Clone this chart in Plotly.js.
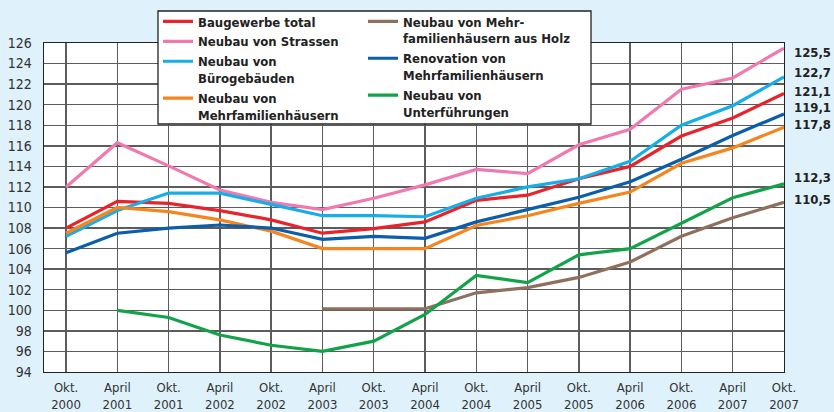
<!DOCTYPE html>
<html>
<head>
<meta charset="utf-8">
<script src="https://cdn.plot.ly/plotly-3.0.1.min.js"></script>
<style>
html,body{margin:0;padding:0;background:#dff1fa;}
#chart{width:834px;height:412px;}
</style>
</head>
<body>
<div id="chart"></div>
<script>
// ---- data ----
const periods = ['Okt.<br>2000','April<br>2001','Okt.<br>2001','April<br>2002','Okt.<br>2002','April<br>2003','Okt.<br>2003','April<br>2004','Okt.<br>2004','April<br>2005','Okt.<br>2005','April<br>2006','Okt.<br>2006','April<br>2007','Okt.<br>2007'];
const baugewerbeTotal = [108.0, 110.6, 110.4, 109.7, 108.8, 107.5, 107.95, 108.6, 110.7, 111.2, 112.8, 114.0, 116.95, 118.7, 121.1];
const neubauStrassen = [112.0, 116.3, 114.05, 111.7, 110.5, 109.8, 110.9, 112.2, 113.7, 113.3, 116.1, 117.6, 121.5, 122.6, 125.5];
const neubauBuero = [107.2, 109.7, 111.4, 111.4, 110.3, 109.2, 109.2, 109.1, 110.9, 112.0, 112.8, 114.5, 118.0, 119.9, 122.7];
const neubauMfh = [107.5, 110.0, 109.6, 108.8, 107.7, 106.0, 106.0, 106.0, 108.25, 109.2, 110.4, 111.5, 114.3, 115.8, 117.8];
const neubauMfhHolz = [null, null, null, null, null, 100.15, 100.15, 100.15, 101.7, 102.2, 103.2, 104.7, 107.2, 109.0, 110.5];
const renovationMfh = [105.6, 107.5, 108.0, 108.3, 108.0, 106.9, 107.2, 107.0, 108.6, 109.8, 111.0, 112.5, 114.7, 117.0, 119.1];
const neubauUnterf = [null, 100.0, 99.3, 97.6, 96.6, 96.0, 97.0, 99.6, 103.4, 102.7, 105.4, 106.0, 108.5, 110.95, 112.3];
const endLabels = ['125,5','122,7','121,1','119,1','117,8','112,3','110,5'];
const yTicks = [94,96,98,100,102,104,106,108,110,112,114,116,118,120,122,124,126];

// ---- styling ----
const FONT = '"DejaVu Sans Condensed", "Liberation Sans", sans-serif';
const xIdx = periods.map((_, i) => i);

const series = [
  {name:'Baugewerbe total', y: baugewerbeTotal, color:'#e8232a', legend:'legend'},
  {name:'Neubau von Strassen', y: neubauStrassen, color:'#f07aaf', legend:'legend'},
  {name:'Neubau von<br>Bürogebäuden', y: neubauBuero, color:'#16aee8', legend:'legend'},
  {name:'Neubau von<br>Mehrfamilienhäusern', y: neubauMfh, color:'#f5861f', legend:'legend'},
  {name:'Neubau von Mehr-<br>familienhäusern aus Holz', y: neubauMfhHolz, color:'#8f705e', legend:'legend2'},
  {name:'Renovation von<br>Mehrfamilienhäusern', y: renovationMfh, color:'#0b5ea9', legend:'legend2'},
  {name:'Neubau von<br>Unterführungen', y: neubauUnterf, color:'#12a34a', legend:'legend2'}
];

const traces = series.map(s => ({
  type:'scatter', mode:'lines', x:xIdx, y:s.y, name:s.name, legend:s.legend,
  line:{color:s.color, width:3.2}, connectgaps:false, hoverinfo:'skip'
}));

// end-value labels (order: strassen, buero, total, renovation, mfh, unterf, holz)
const endSeries = [neubauStrassen, neubauBuero, baugewerbeTotal, renovationMfh, neubauMfh, neubauUnterf, neubauMfhHolz];
const endShift = [-4, 4, 2, 6, 3, 6, 3];
const annotations = endSeries.map((arr, k) => ({
  x: xIdx[xIdx.length-1], y: arr[arr.length-1], xref:'x', yref:'y',
  text:'<b>'+endLabels[k]+'</b>', showarrow:false, xanchor:'left', yanchor:'middle',
  xshift:8, yshift:endShift[k], font:{family:FONT, size:13, color:'#222'}
}));

const L = 44, R = 784, T = 43, B = 372;
const px = v => (v - L) / (R - L);
const py = v => (B - v) / (B - T);

const layout = {
  width:834, height:412,
  margin:{l:L, r:834-R, t:T, b:412-B, pad:0, autoexpand:false},
  paper_bgcolor:'#dff1fa', plot_bgcolor:'#ffffff',
  font:{family:FONT, color:'#333'},
  showlegend:true,
  xaxis:{
    range:[-0.43, periods.length-1], tickvals:xIdx, ticktext:periods,
    showgrid:true, gridcolor:'#5c5c5c', gridwidth:1.4,
    showline:true, linecolor:'#222', linewidth:1.4, mirror:true,
    zeroline:false, ticks:'', ticklabelstandoff:3, automargin:false,
    tickfont:{family:FONT, size:13, color:'#333'}
  },
  yaxis:{
    range:[94,126], tickvals:yTicks, ticktext:yTicks.map(String),
    showgrid:true, gridcolor:'#5c5c5c', gridwidth:1.4,
    showline:true, linecolor:'#222', linewidth:1.4, mirror:true,
    zeroline:false, ticks:'', ticklabelstandoff:8, automargin:false,
    tickfont:{family:FONT, size:14, color:'#333'}
  },
  legend:{
    x:px(158), y:py(6.5), xanchor:'left', yanchor:'top', bgcolor:'rgba(0,0,0,0)',
    borderwidth:0, valign:'top', tracegroupgap:0,
    font:{family:FONT, size:13, color:'#222', weight:'bold'}
  },
  legend2:{
    x:px(363), y:py(6.5), xanchor:'left', yanchor:'top', bgcolor:'rgba(0,0,0,0)',
    borderwidth:0, valign:'top', tracegroupgap:0,
    font:{family:FONT, size:13, color:'#222', weight:'bold'}
  },
  shapes:[{
    type:'rect', xref:'paper', yref:'paper', layer:'above',
    x0:px(158), x1:px(591), y0:py(124), y1:py(11),
    fillcolor:'#ffffff', line:{color:'#222', width:1.3}
  }],
  annotations:annotations
};

Plotly.newPlot('chart', traces, layout, {displayModeBar:false, staticPlot:true});
</script>
</body>
</html>
